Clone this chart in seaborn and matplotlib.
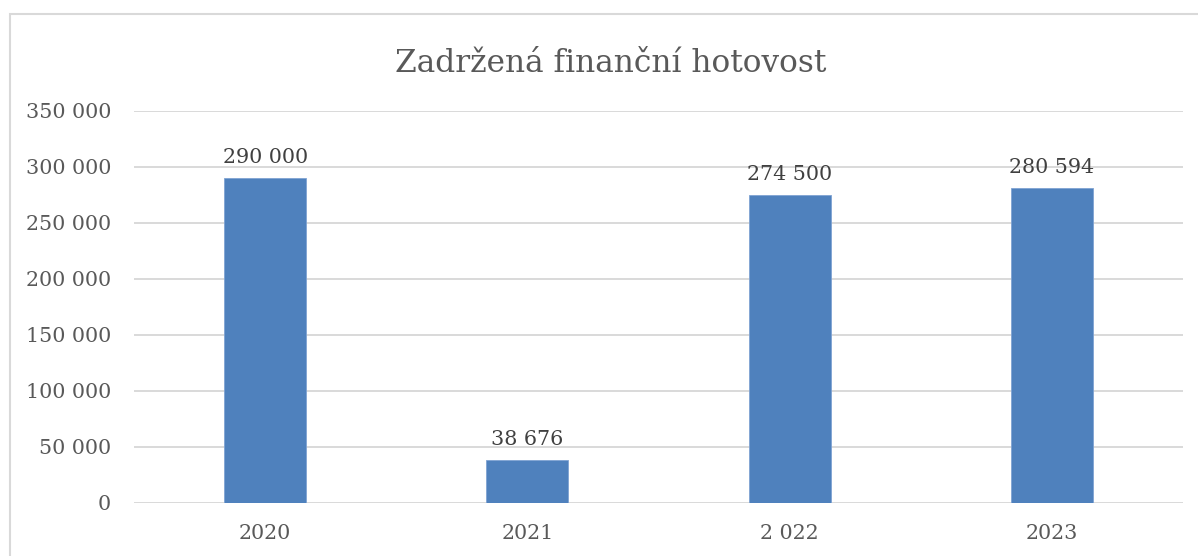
import matplotlib
matplotlib.use("Agg")
import matplotlib.pyplot as plt
import matplotlib.patches as mpatches
import seaborn as sns
import pandas as pd

# Data
categories = ["2020", "2021", "2 022", "2023"]
values = [290000, 38676, 274500, 280594]
y_ticks = [0, 50000, 100000, 150000, 200000, 250000, 300000, 350000]
title_text = "Zadržená finanční hotovost"

def fmt(v):
    return f"{int(round(v)):,}".replace(",", " ")

sns.set_theme(style="white")
plt.rcParams['font.family'] = ['DejaVu Serif']

df = pd.DataFrame({"rok": categories, "hodnota": values})

fig = plt.figure(figsize=(11.98, 5.56), dpi=100)
ax = fig.add_axes([134/1198, 1 - 503/556, (1183 - 134)/1198, (503 - 110.5)/556])

sns.barplot(data=df, x="rok", y="hodnota", color="#4F81BD", width=0.313,
            saturation=1, ax=ax, zorder=3, edgecolor="#7FA3D3", linewidth=0.6)

ax.set_ylim(0, 350000)
ax.set_yticks(y_ticks)
ax.set_yticklabels([fmt(t) for t in y_ticks])
ax.set_xlabel("")
ax.set_ylabel("")
for s in ax.spines.values():
    s.set_visible(False)
ax.yaxis.grid(True, color="#D9D9D9", linewidth=1.4, zorder=0)
ax.xaxis.grid(False)
ax.set_axisbelow(True)
ax.tick_params(axis="y", length=0, pad=16.5, labelsize=14.9, labelcolor="#595959")
ax.tick_params(axis="x", length=0, pad=15, labelsize=14.9, labelcolor="#595959")

for cont in ax.containers:
    ax.bar_label(cont, labels=[fmt(v) for v in values], padding=8,
                 fontsize=14.9, color="#404040")

fig.text(611/1198, 1 - 72/556, title_text, ha="center", va="baseline",
         fontsize=22.5, color="#595959")

border = mpatches.Rectangle((9.5/1198, -0.05), 1.1, 1 - 14/556 + 0.05,
                            transform=fig.transFigure, fill=False,
                            edgecolor="#D9D9D9", linewidth=1.5, clip_on=False)
fig.patches.append(border)

fig.savefig("out.png", dpi=100, facecolor="white")
